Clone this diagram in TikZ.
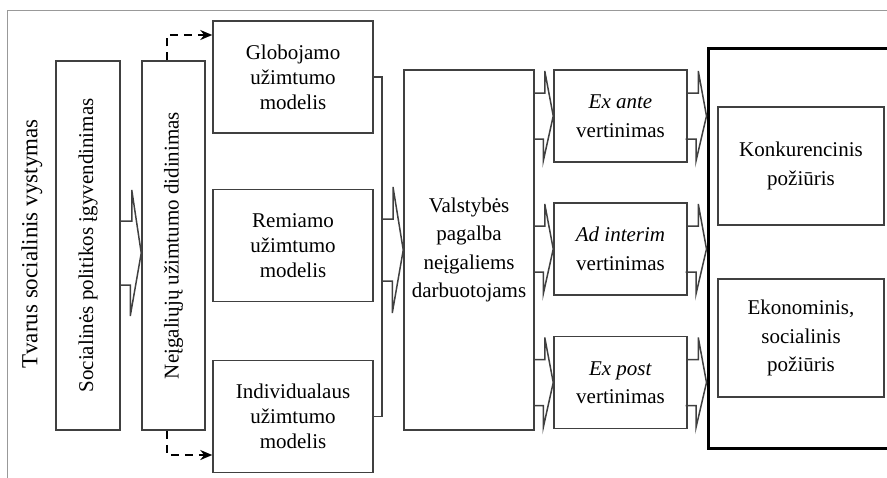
\documentclass[tikz,border=0pt]{standalone}
\usepackage{fontspec}
\setmainfont{Liberation Serif}
\usepackage{graphicx}
\usetikzlibrary{calc,arrows.meta}

\begin{document}
\begin{tikzpicture}[x=0.5pt, y=-0.5pt,
  font=\fontsize{10.5}{12.5}\selectfont,
  box/.style={draw=black!75, line width=0.75pt, align=center, inner sep=0pt},
  loosebox/.style={box, font=\fontsize{10.5}{14.25}\selectfont},
  bigbox/.style={draw=black, line width=1.5pt, inner sep=0pt},
  link/.style={draw=black!75, line width=0.75pt},
  blockarrow/.style={draw=black!75, line width=0.75pt, line join=miter},
  dasharrow/.style={draw=black, line width=1pt, dash pattern=on 4pt off 3pt, -{Stealth[length=6pt,width=5pt]}}]

\useasboundingbox (0,0) rectangle (887,477);

% outer frame
\draw [black!40, line width=0.5pt] (900,10) -| (7,490);

\node [font=\fontsize{11.5}{13}\selectfont] (tvarus) at (32,244) {\rotatebox{90}{Tvarus socialinis vystymas}};

% First columns
\node [box, minimum width=32pt, minimum height=184.5pt] (soc) at (88,245.5)
  {\rotatebox{90}{Socialinės politikos įgyvendinimas}};
\node [box, minimum width=31.5pt, minimum height=184.5pt] (neig) at (173.5,245.5)
  {\rotatebox{90}{Neįgaliųjų užimtumo didinimas}};

\coordinate (t1) at ([yshift=-3.75pt]neig.west);
\draw [blockarrow] (soc.east |- t1) ++(0,-32) -- ++(11,0) -- ++(0,-31) -- (t1) -- ++(-11,63) -- ++(0,-31) -- ++(-11,0);

% models
\node [box, minimum width=80pt, minimum height=56pt] (glob) at (293,77)
  {Globojamo\\užimtumo\\modelis};
\node [box, minimum width=80pt, minimum height=56pt] (remi) at (293,245.5)
  {Remiamo\\užimtumo\\modelis};
\node [box, minimum width=80pt, minimum height=56pt] (indiv) at (293,416.5)
  {Individualaus\\užimtumo\\modelis};

\draw [dasharrow] ([xshift=-3.25pt]neig.north) |- ([yshift=21pt]glob.west);
\draw [dasharrow] ([xshift=-3.25pt]neig.south) |- ([yshift=-19.25pt]indiv.west);

% support
\node [loosebox, minimum width=65pt, minimum height=180pt] (vals) at (469,250)
  {Valstybės\\pagalba\\neįgaliems\\darbuotojams};

\coordinate (join) at (382,250);
\draw [link] (glob.east) -| (join) |- (indiv.east);
\draw [blockarrow] (join) ++(0,-31) -- ++(11,0) -- ++(0,-32) -- (vals.west) -- ++(-11,63) -- ++(0,-32) -- ++(-11,0);

% evaluation
\node [loosebox, minimum width=66.5pt, minimum height=46pt] (exante) at (620.5,116)
  {\textit{Ex ante}\\vertinimas};
\node [loosebox, minimum width=66.5pt, minimum height=46pt] (adint) at (620.5,249)
  {\textit{Ad interim}\\vertinimas};
\node [loosebox, minimum width=66.5pt, minimum height=46pt] (expost) at (620.5,382.5)
  {\textit{Ex post}\\vertinimas};

\draw [blockarrow] (vals.east |- exante) ++(0,-23) -- ++(10,0) -- ++(0,-22) -- (exante.west) -- ++(-10,45) -- ++(0,-22) -- ++(-10,0);
\draw [blockarrow] (vals.east |- adint) ++(0,-23) -- ++(10,0) -- ++(0,-22) -- (adint.west) -- ++(-10,45) -- ++(0,-22) -- ++(-10,0);
\draw [blockarrow] (vals.east |- expost) ++(0,-23) -- ++(10,0) -- ++(0,-22) -- (expost.west) -- ++(-10,45) -- ++(0,-22) -- ++(-10,0);

% approaches
\node [bigbox, minimum width=96pt, minimum height=200pt] (bigbox) at (804,248) {};
\node [loosebox, minimum width=83pt, minimum height=59pt] (konk) at (801,166)
  {Konkurencinis\\požiūris};
\node [loosebox, minimum width=83pt, minimum height=59pt] (ekon) at (801,338)
  {Ekonominis,\\socialinis\\požiūris};

\draw [blockarrow] (exante.east) ++(0,-23) -- ++(10.5,0) -- ++(0,-22) -- (bigbox.west |- exante) -- ++(-10.5,45) -- ++(0,-22) -- ++(-10.5,0);
\draw [blockarrow] (adint.east) ++(0,-23) -- ++(10.5,0) -- ++(0,-22) -- (bigbox.west |- adint) -- ++(-10.5,45) -- ++(0,-22) -- ++(-10.5,0);
\draw [blockarrow] (expost.east) ++(0,-23) -- ++(10.5,0) -- ++(0,-22) -- (bigbox.west |- expost) -- ++(-10.5,45) -- ++(0,-22) -- ++(-10.5,0);

\end{tikzpicture}
\end{document}
